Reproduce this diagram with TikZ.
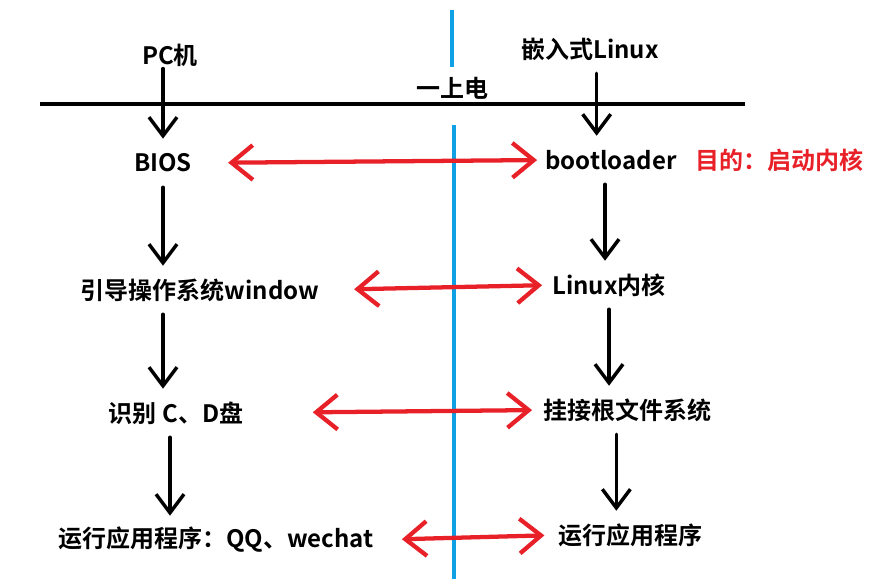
\documentclass[tikz,border=0pt]{standalone}
\usepackage{fontspec}
\newfontfamily\cjk{Noto Sans CJK SC}[BoldFont={Noto Sans CJK SC Bold}]
\usetikzlibrary{arrows.meta,positioning}
\definecolor{splitblue}{RGB}{16, 160, 228}
\definecolor{mapred}{RGB}{232, 32, 40}

\begin{document}
\begin{tikzpicture}[x=0.75pt,y=-0.75pt,
    stage/.style={font=\cjk\bfseries\fontsize{18}{20}\selectfont, inner sep=0pt, minimum height=36pt},
    down/.style={-{Straight Barb[length=14pt,width=21pt]}, line width=2.6pt, line cap=round},
    link/.style={{Straight Barb[length=16pt,width=26pt]}-{Straight Barb[length=16pt,width=26pt]}, mapred, line width=3.2pt, line cap=round}]
            \useasboundingbox (0,0) rectangle (881,579);

            % Dividing lines
            \draw[splitblue, line width=2.6pt] (452,10) -- (452,67);
            \draw[splitblue, line width=2.6pt] (454,125) -- (454,579);
            \draw[line width=3pt] (40,104) -- (745,104);
            \node[stage] (power) at (452,88) {一上电};

            % PC side
            \node[stage] (pc) at (170,55) {PC机};
            \node[stage] (bios) at (163,163) {BIOS};
            \node[stage] (win) at (200,290) {引导操作系统window};
            \node[stage] (cd) at (176,413) {识别 C、D盘};
            \node[stage] (qq) at (216,540) {运行应用程序：QQ、wechat};

            % Embedded side
            \node[stage] (emb) at (590,49) {嵌入式Linux};
            \node[stage] (boot) at (611,160) {bootloader};
            \node[stage, mapred, anchor=west] (goal) at (695,160) {目的：启动内核};
            \node[stage] (kern) at (609,285) {Linux内核};
            \node[stage] (mount) at (627,410) {挂接根文件系统};
            \node[stage] (run) at (630,535) {运行应用程序};

            % Boot steps
            \draw[down, shorten <=-8pt] (bios.north |- pc.south) -- (bios.north);
            \draw[down] (bios.south) -- (bios.south |- win.north);
            \draw[down] (win.south -| bios) -- (cd.north -| bios);
            \draw[down] ([xshift=-4.5pt]cd.south) -- ([xshift=-4.5pt]cd.south |- qq.north);

            \draw[down] ([xshift=5pt]emb.south) -- ([xshift=5pt]emb.south |- boot.north);
            \draw[down] ([xshift=-4.5pt]boot.south) -- ([xshift=-4.5pt]boot.south |- kern.north);
            \draw[down] (kern.south) -- (kern.south |- mount.north);
            \draw[down] ([xshift=-8pt]mount.south) -- ([xshift=-8pt]mount.south |- run.north);

            % Correspondences
            \draw[link, shorten <=27pt, shorten >=6pt] (bios.east) -- (boot.west);
            \draw[link, shorten <=26pt, shorten >=7.5pt] (win.east) -- (kern.west);
            \draw[link, shorten <=52pt, shorten >=8pt] (cd.east) -- (mount.west);
            \draw[link, shorten <=21pt, shorten >=10pt] (qq.east) -- (run.west);
\end{tikzpicture}
\end{document}
